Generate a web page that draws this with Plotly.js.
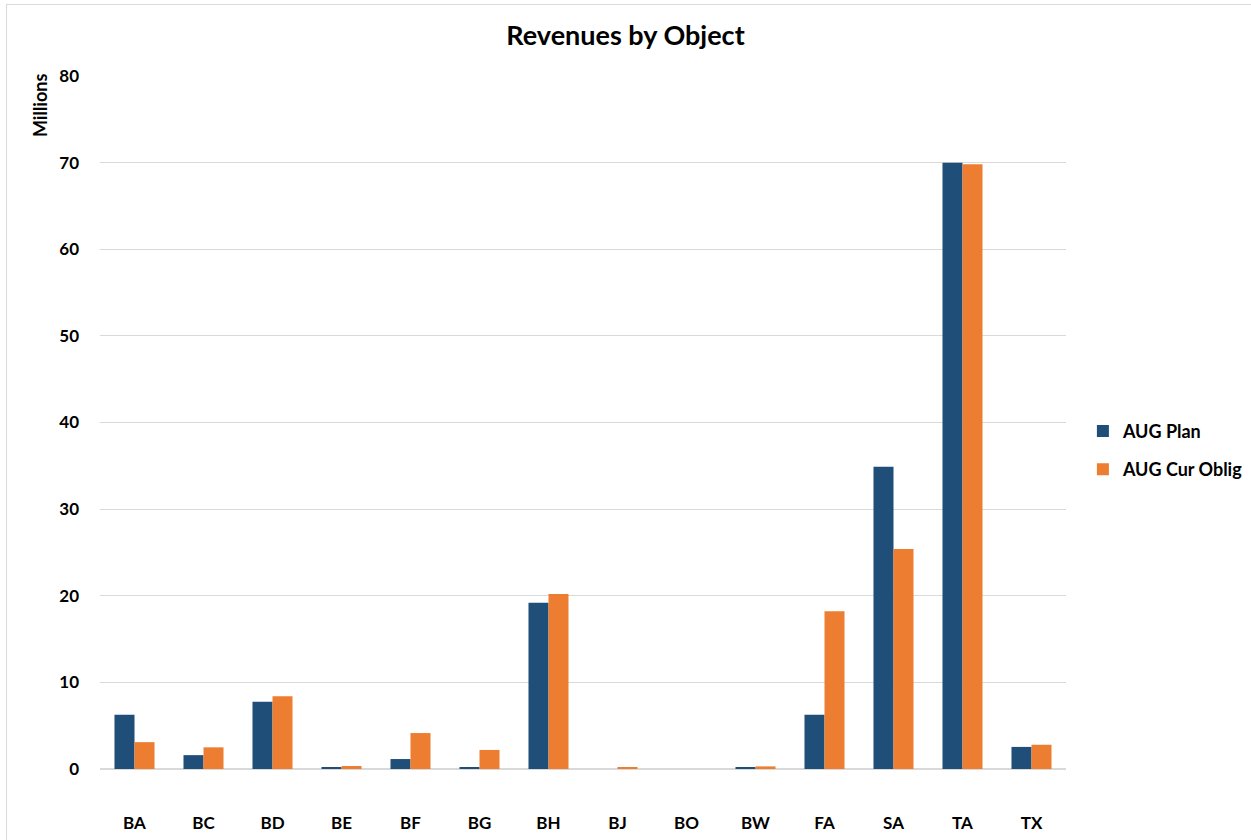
<!DOCTYPE html>
<html>
<head>
<meta charset="utf-8">
<script src="https://cdn.plot.ly/plotly-3.0.1.min.js"></script>
<style>
html,body{margin:0;padding:0;background:#fff;}
#frame{position:absolute;left:6px;top:4px;width:1260px;height:850px;border:1px solid #d9d9d9;box-sizing:border-box;}
#chart{position:absolute;left:0;top:0;width:1251px;height:840px;}
</style>
</head>
<body>
<div id="frame"></div>
<div id="chart"></div>
<script>
const categories = ["BA","BC","BD","BE","BF","BG","BH","BJ","BO","BW","FA","SA","TA","TX"];
const augPlan = [6.25, 1.6, 7.75, 0.15, 1.15, 0.15, 19.2, 0, 0, 0.15, 6.25, 34.9, 70.0, 2.55];
const augCurOblig = [3.1, 2.5, 8.4, 0.35, 4.15, 2.2, 20.2, 0.2, 0, 0.3, 18.2, 25.4, 69.8, 2.8];
const seriesNames = ["AUG Plan", "AUG Cur Oblig"];
const colors = ["#1f4e79", "#ed7d31"];

const font = "Lato, 'Open Sans', 'Liberation Sans', sans-serif";

const traces = [
  {type:"bar", x:categories, y:augPlan, name:seriesNames[0], legendgroup:"a",
   marker:{color:colors[0], line:{width:0}}},
  {type:"bar", x:categories, y:augCurOblig, name:seriesNames[1], legendgroup:"b",
   marker:{color:colors[1], line:{width:0}}}
];

const layout = {
  width:1251, height:840,
  paper_bgcolor:"rgba(0,0,0,0)", plot_bgcolor:"#ffffff",
  margin:{l:100, r:185, t:76, b:71, autoexpand:false},
  font:{family:font, color:"#000", size:16},
  title:{text:"<b>Revenues by Object</b>", x:0.5, xanchor:"center", y:1-36/840, yanchor:"middle",
         font:{family:font, size:27, color:"#000"}},
  barmode:"group", bargap:0.42, bargroupgap:0,
  xaxis:{type:"category", tickfont:{family:font, size:17, color:"#000", weight:"bold"},
         showgrid:false, showline:false, ticks:"", ticklabelstandoff:42},
  yaxis:{range:[0,80], dtick:10, showgrid:true, gridcolor:"#d9d9d9", gridwidth:1,
         zeroline:true, zerolinecolor:"#d9d9d9", zerolinewidth:1.5, showline:false, ticks:"",
         tickfont:{family:font, size:17, color:"#000", weight:"bold"}, ticklabelstandoff:20},
  legend:{x:1.0175, xanchor:"left", y:0.46, yanchor:"middle", traceorder:"grouped", tracegroupgap:12,
          font:{family:font, size:18, color:"#000", weight:"bold"}, bgcolor:"rgba(0,0,0,0)"},
  annotations:[{text:"<b>Millions</b>", xref:"paper", yref:"paper", x:-60/966, y:1.005, xanchor:"center", yanchor:"top",
                textangle:-90, showarrow:false, font:{family:font, size:18, color:"#000"}}]
};

Plotly.newPlot("chart", traces, layout, {displayModeBar:false});
</script>
</body>
</html>
